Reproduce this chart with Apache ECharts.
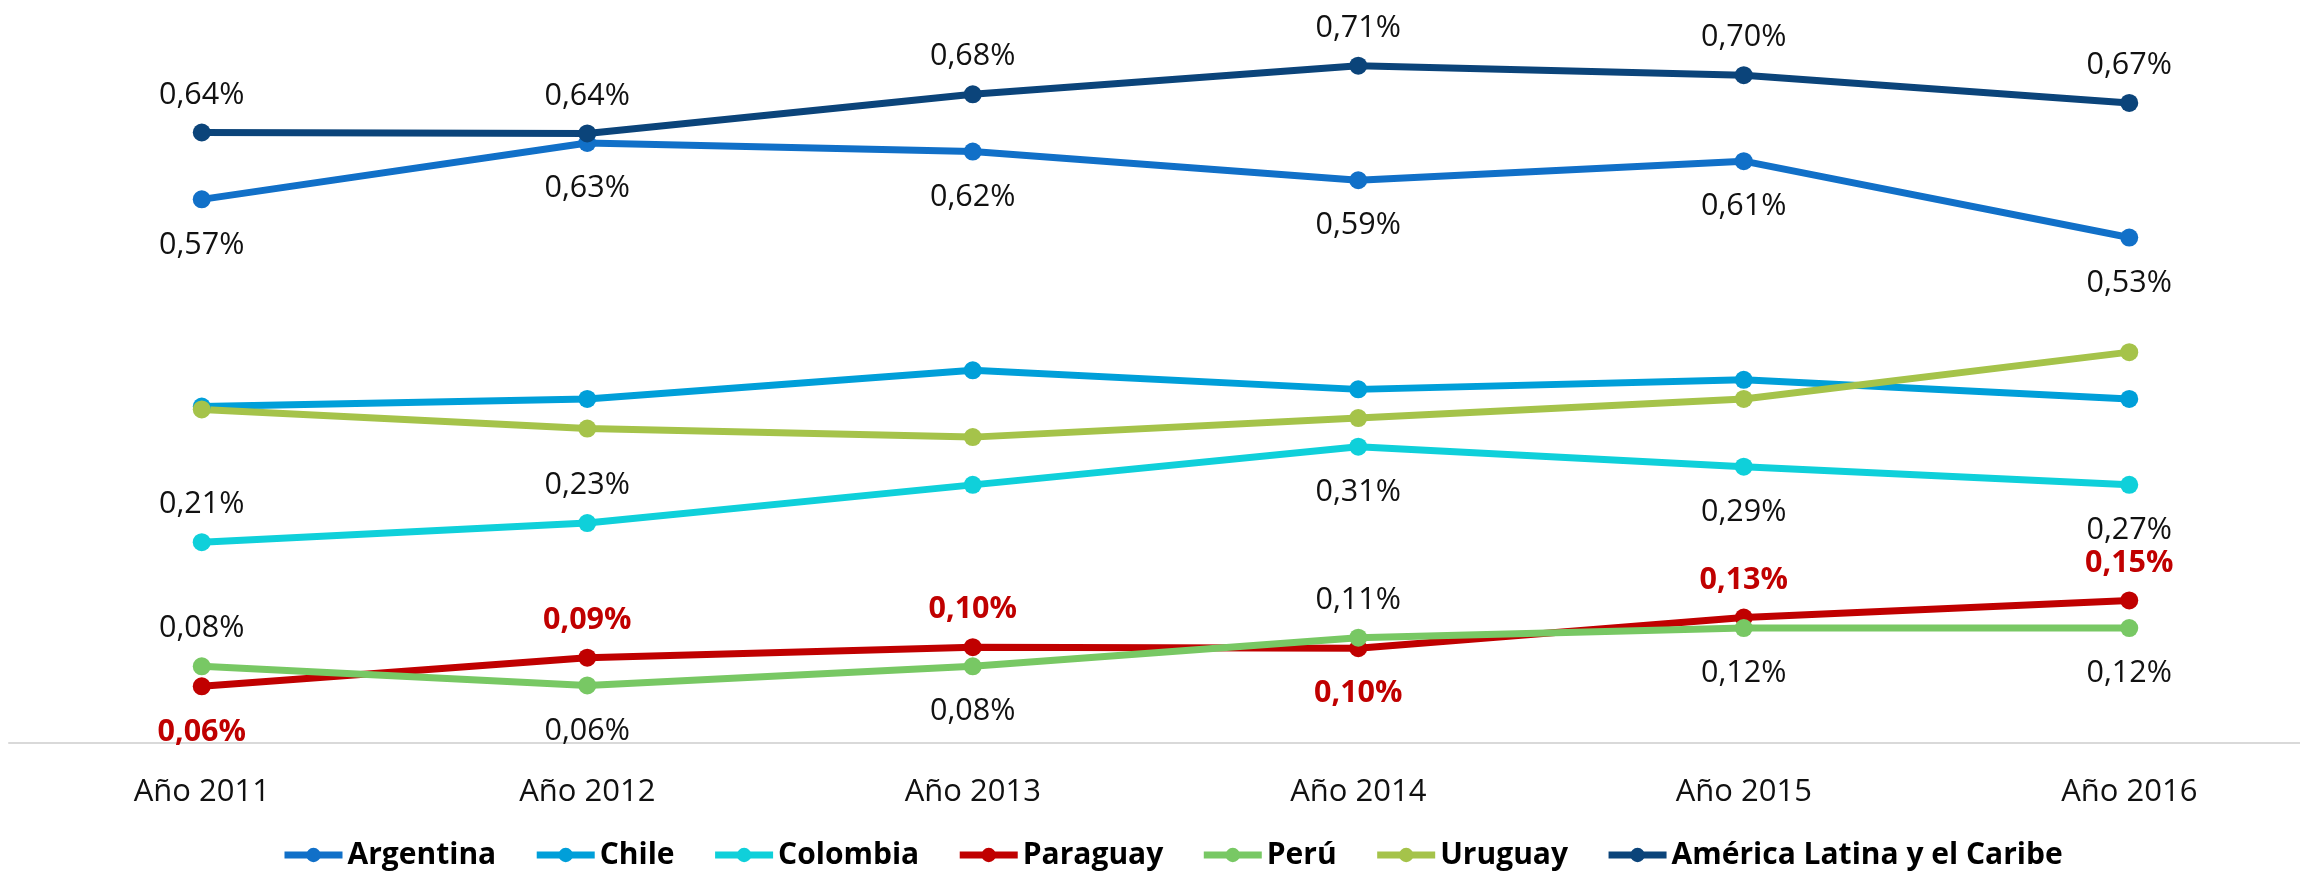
<!DOCTYPE html>
<html>
<head>
<meta charset="utf-8">
<script src="https://cdn.jsdelivr.net/npm/echarts@6/dist/echarts.min.js"></script>
<style>
html, body { margin: 0; padding: 0; background: #fff; }
#chart { width: 2300px; height: 872px; }
</style>
</head>
<body>
<div id="chart"></div>
<script>
var years = ['Año 2011', 'Año 2012', 'Año 2013', 'Año 2014', 'Año 2015', 'Año 2016'];

var argentina = [0.569, 0.628, 0.619, 0.589, 0.609, 0.529];
var chile = [0.352, 0.360, 0.390, 0.370, 0.380, 0.360];
var colombia = [0.210, 0.230, 0.270, 0.310, 0.289, 0.270];
var paraguay = [0.059, 0.089, 0.100, 0.099, 0.131, 0.149];
var peru = [0.080, 0.060, 0.080, 0.110, 0.120, 0.120];
var uruguay = [0.349, 0.329, 0.320, 0.340, 0.360, 0.409];
var americaLatina = [0.639, 0.638, 0.679, 0.709, 0.699, 0.670];

var font = '"Open Sans", "Noto Sans", sans-serif';

function fmt(p) {
    return p.value.toFixed(2).replace('.', ',') + '%';
}

// builds a line series; pos = label position per point ('top', 'bottom' or null for none)
function makeSeries(name, values, color, pos, red) {
    return {
        name: name,
        type: 'line',
        symbol: 'circle',
        symbolSize: 18,
        lineStyle: { width: 7, color: color },
        itemStyle: { color: color },
        data: values.map(function (v, i) {
            var p = pos ? pos[i] : null;
            return {
                value: v,
                label: {
                    show: !!p,
                    position: p || 'top',
                    distance: p === 'bottom' ? 21 : 13
                }
            };
        }),
        label: {
            formatter: fmt,
            fontFamily: font,
            fontSize: 30.5,
            color: red ? '#c00000' : '#111',
            fontWeight: red ? 'bold' : 'normal'
        },
        emphasis: { disabled: true }
    };
}

var T = 'top', B = 'bottom';

var myChart = echarts.init(document.getElementById('chart'));

var option = {
    animation: false,
    grid: { left: 9, right: -22, top: 26.5, bottom: 129.3, outerBoundsMode: 'none', containLabel: false },
    legend: {
        bottom: -3,
        left: 276,
        itemWidth: 58,
        itemHeight: 18,
        itemGap: 37,
        lineStyle: { width: 7 },
        textStyle: { fontFamily: font, fontSize: 30, fontWeight: 'bold', color: '#000' },
        data: ['Argentina', 'Chile', 'Colombia', 'Paraguay', 'Perú', 'Uruguay', 'América Latina y el Caribe']
    },
    xAxis: {
        type: 'category',
        boundaryGap: true,
        data: years,
        axisLine: { lineStyle: { color: '#d9d9d9', width: 2 } },
        axisTick: { show: false },
        axisLabel: { fontFamily: font, fontSize: 31, color: '#111', margin: 34 }
    },
    yAxis: {
        type: 'value',
        min: 0,
        max: 0.75,
        show: false,
        splitLine: { show: false }
    },
    series: [
        makeSeries('Argentina', argentina, '#1170c8', [B, B, B, B, B, B]),
        makeSeries('Chile', chile, '#009fd9', null),
        makeSeries('Colombia', colombia, '#0fd0da', [T, T, null, B, B, B]),
        makeSeries('Paraguay', paraguay, '#c00000', [B, T, T, B, T, T], true),
        makeSeries('Perú', peru, '#78c864', [T, B, B, T, B, B]),
        makeSeries('Uruguay', uruguay, '#a5c34a', null),
        makeSeries('América Latina y el Caribe', americaLatina, '#0b447a', [T, T, T, T, T, T])
    ]
};

myChart.setOption(option);
</script>
</body>
</html>
